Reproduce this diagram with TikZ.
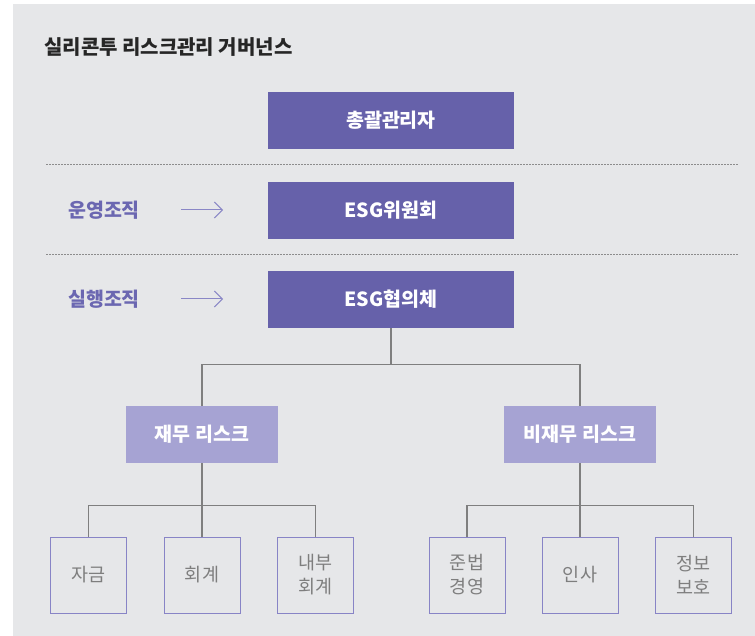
\documentclass[tikz,border=0pt]{standalone}
\usepackage{fontspec}
\setmainfont{Noto Sans CJK KR}
\usepackage{xcolor}
\usepackage{tikz}
\usetikzlibrary{positioning,calc,arrows.meta}

\definecolor{bggray}{HTML}{E6E7E9}
\definecolor{darkpurple}{HTML}{6661AA}
\definecolor{lightpurple}{HTML}{A6A3D3}
\definecolor{labelpurple}{HTML}{6B67B1}
\definecolor{arrowpurple}{HTML}{8A87C6}
\definecolor{leafborder}{HTML}{8884C6}
\definecolor{linegray}{HTML}{7F7F7F}
\definecolor{dotgray}{HTML}{8C8C8C}
\definecolor{leaftext}{HTML}{7E7E7E}

\begin{document}
\begin{tikzpicture}[x=1pt, y=-1pt,
    mainbox/.style={fill=darkpurple, text=white, font=\fontsize{19.5}{22}\selectfont\bfseries,
      minimum width=246pt, minimum height=57pt, inner sep=0pt},
    riskbox/.style={fill=lightpurple, text=white, font=\fontsize{19.5}{22}\selectfont\bfseries,
      minimum width=152pt, minimum height=57pt, inner sep=0pt},
    leafbox/.style={draw=leafborder, line width=1pt, text=leaftext, align=center,
      font=\fontsize{18.5}{24}\selectfont, minimum width=76pt, minimum height=76pt, inner sep=0pt},
    orglabel/.style={text=labelpurple, font=\fontsize{19.5}{22}\selectfont\bfseries, inner sep=0pt},
    conn/.style={draw=linegray, line width=1.3pt},
    levelsep/.style={draw=dotgray, line width=1pt, dash pattern=on 1.5pt off 1.5pt},
    orgarrow/.style={draw=arrowpurple, line width=1pt, -{Straight Barb[length=8pt, width=16pt]}}]
  % Frame
  \useasboundingbox (0,0) rectangle (755,636);
  \fill[bggray] (13,4) rectangle (755,636);

  % Title
  \node[anchor=west, inner sep=0pt, text=black!85, font=\fontsize{20}{22}\selectfont\bfseries]
    (title) at (44,47) {실리콘투 리스크관리 거버넌스};

  % Top levels
  \node[mainbox] (chief) at (391,120.5) {총괄관리자};
  \node[mainbox] (committee) at (391,210.5) {ESG위원회};
  \node[mainbox] (council) at (391,299.5) {ESG협의체};

  % Level separators
  \coordinate (sepA west) at (46,165);
  \coordinate (sepA east) at (739,165);
  \coordinate (sepB west) at (46,255);
  \coordinate (sepB east) at (739,255);
  \draw[levelsep] (sepA west) -- (sepA east);
  \draw[levelsep] (sepB west) -- (sepB east);

  % Side labels
  \node[orglabel] (oplabel) at (104,210) {운영조직};
  \node[orglabel] (exlabel) at (104,299) {실행조직};
  \coordinate (oparrow start) at (181,210);
  \coordinate (oparrow end) at (223,210);
  \coordinate (exarrow start) at (181,299);
  \coordinate (exarrow end) at (223,299);
  \draw[orgarrow] (oparrow start) -- (oparrow end);
  \draw[orgarrow] (exarrow start) -- (exarrow end);

  % Risk groups
  \node[riskbox] (fin) at (202,434.5) {재무 리스크};
  \node[riskbox] (nonfin) at (580,434.5) {비재무 리스크};
  \draw[conn] (council.south) -- +(0,36) -| (fin.north);
  \draw[conn] (council.south) -- +(0,36) -| (nonfin.north);

  % Financial leaves
  \node[leafbox] (fund) at (88.5,575) {자금};
  \node[leafbox] (acct) at (202,575) {회계};
  \node[leafbox] (audit) at (315.5,575) {내부\\회계};
  \draw[conn] (fin.south) -- (acct.north);
  \draw[conn] (fin.south) -- +(0,42) -| (fund.north);
  \draw[conn] (fin.south) -- +(0,42) -| (audit.north);

  % Non-financial leaves
  \node[leafbox] (comply) at (467,575) {준법\\경영};
  \node[leafbox] (hr) at (580,575) {인사};
  \node[leafbox] (privacy) at (693.5,575) {정보\\보호};
  \draw[conn] (nonfin.south) -- (hr.north);
  \draw[conn] (nonfin.south) -- +(0,42) -| (comply.north);
  \draw[conn] (nonfin.south) -- +(0,42) -| (privacy.north);
\end{tikzpicture}
\end{document}
